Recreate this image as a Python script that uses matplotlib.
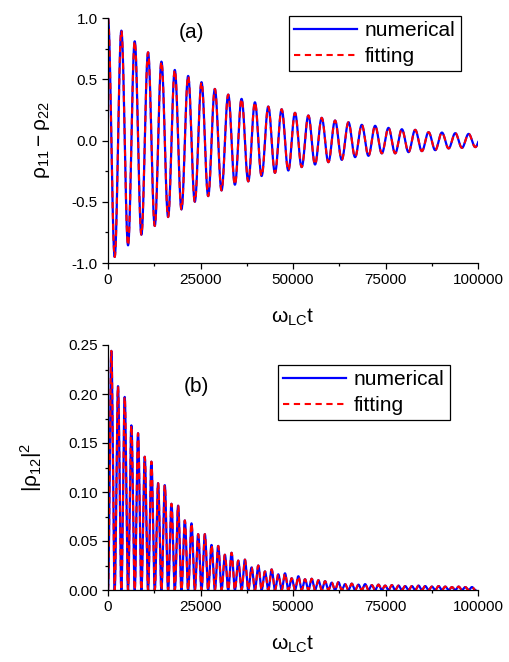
import numpy as np
import matplotlib
matplotlib.use("Agg")
import matplotlib.pyplot as plt

plt.rcParams['font.family'] = ['Liberation Sans', 'DejaVu Sans']
plt.rcParams['mathtext.fontset'] = 'custom'
plt.rcParams['mathtext.rm'] = 'Liberation Sans'
plt.rcParams['mathtext.it'] = 'Liberation Sans'
plt.rcParams['axes.unicode_minus'] = False

# ---- data ----
x_max = 100000
period = 3610  # oscillation period of rho11-rho22 (omega_LC t units)

# panel (a): successive maxima (at k*period) and minima (at (k+0.5)*period)
a_peaks = [1.0, 0.897, 0.81, 0.72, 0.644, 0.576, 0.527, 0.476, 0.421, 0.375,
           0.34, 0.312, 0.277, 0.255, 0.226, 0.204, 0.185, 0.163, 0.149, 0.128,
           0.12, 0.103, 0.092, 0.087, 0.068, 0.065, 0.06, 0.054, 0.05]
a_troughs = [-0.951, -0.856, -0.769, -0.698, -0.625, -0.5625, -0.5, -0.454,
             -0.408, -0.361, -0.334, -0.29, -0.264, -0.245, -0.217, -0.196,
             -0.177, -0.158, -0.136, -0.125, -0.105, -0.105, -0.095, -0.087,
             -0.079, -0.065, -0.06, -0.054]

# panel (b): successive maxima of |rho12|^2 (minima are ~0)
b_peaks = [0.244, 0.208, 0.197, 0.168, 0.160, 0.136, 0.131, 0.109, 0.107, 0.088,
           0.086, 0.071, 0.068, 0.057, 0.057, 0.046, 0.045, 0.036, 0.038, 0.030,
           0.031, 0.023, 0.025, 0.019, 0.021, 0.016, 0.017, 0.012, 0.014, 0.011,
           0.0115, 0.010, 0.009, 0.0075, 0.008, 0.006, 0.0065, 0.0055, 0.006, 0.005,
           0.0055, 0.0045, 0.005, 0.0045, 0.004, 0.004, 0.0045, 0.004, 0.0035, 0.004,
           0.0035, 0.003, 0.0035, 0.003, 0.003]
b_min = 0.0

a_yticks = [-1.0, -0.5, 0.0, 0.5, 1.0]
b_yticks = [0.00, 0.05, 0.10, 0.15, 0.20, 0.25]
x_ticks = [0, 25000, 50000, 75000, 100000]
series_labels = ["numerical", "fitting"]


def smooth_through(values, step, n=30):
    """Connect successive extrema with half-cosine segments."""
    ts, ys = [], []
    for i in range(len(values) - 1):
        s = np.linspace(0, 1, n, endpoint=False)
        ts.append((i + s) * step)
        ys.append(values[i] + (values[i + 1] - values[i]) * (1 - np.cos(np.pi * s)) / 2)
    ts.append([(len(values) - 1) * step])
    ys.append([values[-1]])
    return np.concatenate(ts), np.concatenate(ys)


a_ext = []
for i in range(len(a_troughs)):
    a_ext += [a_peaks[i], a_troughs[i]]
a_ext.append(a_peaks[len(a_troughs)])
ta, ya = smooth_through(a_ext, period / 2)

b_ext = [b_min]
for p in b_peaks:
    b_ext += [p, b_min]
tb, yb = smooth_through(b_ext, period / 4)

W, H = 510, 662
fig = plt.figure(figsize=(W / 100, H / 100), dpi=100)
ax1 = fig.add_axes([108 / W, 1 - 263 / H, 370 / W, 245 / H])
ax2 = fig.add_axes([108 / W, 1 - 590 / H, 370 / W, 245 / H])

for ax, t, y in ((ax1, ta, ya), (ax2, tb, yb)):
    ax.plot(t, y, color='#0000ff', lw=1.6, label=series_labels[0])
    ax.plot(t, y, color='#ff0000', lw=1.5, ls=(0, (3.0, 2.2)), label=series_labels[1])
    ax.set_xlim(0, x_max)
    ax.set_xticks(x_ticks)
    ax.set_xticks([12500, 37500, 62500, 87500], minor=True)
    ax.spines['top'].set_visible(False)
    ax.spines['right'].set_visible(False)
    for sp in ('left', 'bottom'):
        ax.spines[sp].set_linewidth(0.9)
    ax.tick_params(which='major', direction='out', length=4, width=0.9, labelsize=11)
    ax.tick_params(which='minor', direction='out', length=2.5, width=0.9)
    ax.set_xlabel(r'$\mathregular{ω_{LC}t}$', fontsize=15, labelpad=14)

ax1.set_ylim(-1.0, 1.0)
ax1.set_yticks(a_yticks)
ax1.set_yticks([-0.75, -0.25, 0.25, 0.75], minor=True)
ax1.set_yticklabels([f"{v:.1f}" for v in a_yticks])
ax1.set_ylabel(r'$\mathregular{ρ_{11}−ρ_{22}}$', fontsize=15, labelpad=14)
ax1.text(0.227, 0.94, '(a)', transform=ax1.transAxes, fontsize=15,
         ha='center', va='center')

ax2.set_ylim(0, 0.25)
ax2.set_yticks(b_yticks)
ax2.set_yticks([0.025, 0.075, 0.125, 0.175, 0.225], minor=True)
ax2.set_yticklabels([f"{v:.2f}" for v in b_yticks])
ax2.set_ylabel(r'$\mathregular{|ρ_{12}|^2}$', fontsize=15, labelpad=17)
ax2.text(0.24, 0.83, '(b)', transform=ax2.transAxes, fontsize=15,
         ha='center', va='center')

for ax, anchor in ((ax1, (0.489, 1.008)), (ax2, (0.459, 0.918))):
    leg = ax.legend(loc='upper left', bbox_to_anchor=anchor, borderaxespad=0,
                    fontsize=15, handlelength=3.0, handletextpad=0.4,
                    borderpad=0.25, labelspacing=0.32, fancybox=False,
                    edgecolor='black', framealpha=1)
    leg.get_frame().set_linewidth(0.9)

fig.savefig('out.png', dpi=100)
